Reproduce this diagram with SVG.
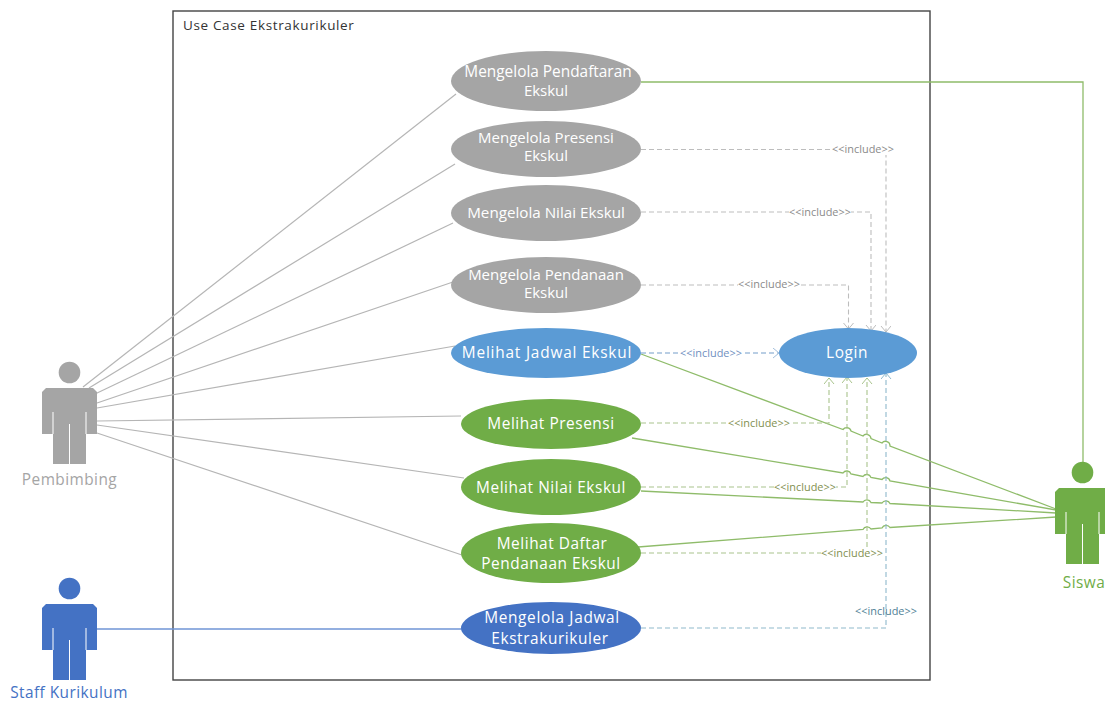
<svg xmlns="http://www.w3.org/2000/svg" width="1105" height="703" viewBox="0 0 1105 703">
<defs>
<marker id="ag" markerWidth="12" markerHeight="12" refX="10" refY="5" orient="auto" markerUnits="userSpaceOnUse"><path d="M4 0L10 5L4 10" fill="none" stroke="#bdbdbd" stroke-width="1"/></marker>
<marker id="ab" markerWidth="12" markerHeight="12" refX="10" refY="5" orient="auto" markerUnits="userSpaceOnUse"><path d="M4 0L10 5L4 10" fill="none" stroke="#a3bfdc" stroke-width="1"/></marker>
<marker id="av" markerWidth="12" markerHeight="12" refX="10" refY="5" orient="auto" markerUnits="userSpaceOnUse"><path d="M4 0L10 5L4 10" fill="none" stroke="#a9c48d" stroke-width="1"/></marker>
<marker id="at" markerWidth="12" markerHeight="12" refX="10" refY="5" orient="auto" markerUnits="userSpaceOnUse"><path d="M4 0L10 5L4 10" fill="none" stroke="#8fb9cc" stroke-width="1"/></marker>
<symbol id="person" overflow="visible">
<circle cx="27.5" cy="-15.5" r="10.8"/>
<path d="M4 0H51L55 4V46H44V76H11V46H0V4Z"/>
<path d="M11 24V46M44 24V46M27.5 36V76" fill="none" stroke="#fff" stroke-width="1"/>
</symbol>
</defs>
<style>
text{font-family:"Open Sans","Noto Sans","Liberation Sans",sans-serif}
.uc{font-size:15px;fill:#fff;text-anchor:middle}
.ucb{font-size:15.4px;letter-spacing:.55px;fill:#fff;text-anchor:middle}
.lab{font-size:15.4px;letter-spacing:.45px;text-anchor:middle}
.inc{font-size:10.9px;text-anchor:middle}
.g{fill:#a5a5a5}.b{fill:#5b9bd5}.v{fill:#70ad47}.d{fill:#4472c4}
.sg{fill:none;stroke:#b5b5b5;stroke-width:1.2}
.sv{fill:none;stroke:#8fbc6a;stroke-width:1.3}
.sd{fill:none;stroke:#6f94d6;stroke-width:1.3}
.dg{fill:none;stroke:#bdbdbd;stroke-width:1.1;stroke-dasharray:5 3}
.db{fill:none;stroke:#a3bfdc;stroke-width:1.3;stroke-dasharray:5 3}
.dv{fill:none;stroke:#a9c48d;stroke-width:1.1;stroke-dasharray:5 3}
.dt{fill:none;stroke:#8fb9cc;stroke-width:1.1;stroke-dasharray:5 3}
</style>
<rect id="boundary" x="173" y="11" width="757" height="669" fill="#fff" stroke="#444" stroke-width="1.4"/>
<text x="183" y="30" font-size="13.5" letter-spacing="0.65" fill="#333">Use Case Ekstrakurikuler</text>

<g id="connectors">
<path class="sg" d="M83 387L456 94"/>
<path class="sg" d="M89 388L455 164"/>
<path class="sg" d="M95 394L453 223"/>
<path class="sg" d="M97 403L453 282"/>
<path class="sg" d="M97 408L455 346"/>
<path class="sg" d="M97 421L461 416"/>
<path class="sg" d="M97 425L464 478"/>
<path class="sg" d="M97 433L462 555"/>
<path class="sd" d="M97 629H462"/>
<path class="sv" d="M641 82H1083V462"/>
<path class="sv" d="M641 354L843 429.500A4.500 4.500 0 0 1 851 431L863 436A4.500 4.500 0 0 1 871 438.500L882 443A4.500 4.500 0 0 1 890 446L1056 509"/>
<path class="sv" d="M632 438L843 473A4.500 4.500 0 0 1 851 474L863 476.500A4.500 4.500 0 0 1 871 477.500L882 479.500A4.500 4.500 0 0 1 890 481L1056 510"/>
<path class="sv" d="M641 491L863 502A4.500 4.500 0 0 1 871 502.500L882 503A4.500 4.500 0 0 1 890 503.500L1056 513"/>
<path class="sv" d="M638 547L863 529.500A4.500 4.500 0 0 1 871 529L882 528A4.500 4.500 0 0 1 890 527.500L1056 517"/>

<path class="dg" d="M641 149.500H886V332" marker-end="url(#ag)"/>
<path class="dg" d="M641 212H871V331" marker-end="url(#ag)"/>
<path class="dg" d="M641 285H848.500V329" marker-end="url(#ag)"/>
<path class="db" d="M641 353H779" marker-end="url(#ab)"/>
<path class="dv" d="M641 423H829V378" marker-end="url(#av)"/>
<path class="dv" d="M641 487H847V377" marker-end="url(#av)"/>
<path class="dv" d="M641 553H867V378" marker-end="url(#av)"/>
<path class="dt" d="M641 628H886V373" marker-end="url(#at)"/>
<g>
<rect x="832" y="143" width="62" height="12" fill="#fff"/><text class="inc" x="863" y="152.500" fill="#8a8a8a">&lt;&lt;include&gt;&gt;</text>
<rect x="789" y="206" width="62" height="12" fill="#fff"/><text class="inc" x="820" y="215.500" fill="#8a8a8a">&lt;&lt;include&gt;&gt;</text>
<rect x="738" y="278" width="62" height="12" fill="#fff"/><text class="inc" x="769" y="288" fill="#8a8a8a">&lt;&lt;include&gt;&gt;</text>
<rect x="680" y="347" width="62" height="12" fill="#fff"/><text class="inc" x="711" y="356.500" fill="#6f8fc0">&lt;&lt;include&gt;&gt;</text>
<rect x="728" y="417" width="62" height="12" fill="#fff"/><text class="inc" x="759" y="426.500" fill="#7f8f50">&lt;&lt;include&gt;&gt;</text>
<rect x="774" y="481" width="62" height="12" fill="#fff"/><text class="inc" x="805" y="490.500" fill="#7f8f50">&lt;&lt;include&gt;&gt;</text>
<rect x="821" y="547" width="62" height="12" fill="#fff"/><text class="inc" x="852" y="556.500" fill="#7f8f50">&lt;&lt;include&gt;&gt;</text>
<text class="inc" x="886" y="614.500" fill="#4f7f96">&lt;&lt;include&gt;&gt;</text>
</g>
</g>

<g id="uc-pendaftaran"><ellipse class="g" cx="546" cy="81" rx="95" ry="30"/><text class="uc" x="548" y="77" style="font-size:15.4px">Mengelola Pendaftaran</text><text class="uc" x="546" y="96">Ekskul</text></g>
<g id="uc-presensi"><ellipse class="g" cx="546" cy="149" rx="95" ry="28"/><text class="uc" x="546" y="143">Mengelola Presensi</text><text class="uc" x="546" y="161">Ekskul</text></g>
<g id="uc-nilai"><ellipse class="g" cx="546" cy="213" rx="95" ry="28"/><text class="uc" x="546" y="218" style="font-size:15.2px">Mengelola Nilai Ekskul</text></g>
<g id="uc-pendanaan"><ellipse class="g" cx="546" cy="285" rx="95" ry="28"/><text class="uc" x="546" y="280">Mengelola Pendanaan</text><text class="uc" x="546" y="298">Ekskul</text></g>
<g id="uc-jadwal"><ellipse class="b" cx="546" cy="353" rx="95" ry="25"/><text class="ucb" x="547" y="358" style="letter-spacing:.8px">Melihat Jadwal Ekskul</text></g>
<g id="uc-login"><ellipse class="b" cx="848" cy="353" rx="69" ry="25"/><text class="ucb" x="847" y="358" style="letter-spacing:.6px">Login</text></g>
<g id="uc-lihat-presensi"><ellipse class="v" cx="551" cy="424" rx="90" ry="25"/><text class="ucb" x="551" y="429">Melihat Presensi</text></g>
<g id="uc-lihat-nilai"><ellipse class="v" cx="551" cy="487" rx="90" ry="28"/><text class="ucb" x="551" y="493">Melihat Nilai Ekskul</text></g>
<g id="uc-daftar"><ellipse class="v" cx="551" cy="553" rx="90" ry="30"/><text class="ucb" x="552" y="549">Melihat Daftar</text><text class="ucb" x="551" y="569">Pendanaan Ekskul</text></g>
<g id="uc-kelola-jadwal"><ellipse class="d" cx="551" cy="628" rx="90" ry="26"/><text class="ucb" x="552" y="623" style="letter-spacing:.67px">Mengelola Jadwal</text><text class="ucb" x="550" y="644" style="letter-spacing:.6px">Ekstrakurikuler</text></g>

<g id="actor-pembimbing"><use href="#person" x="42" y="388" class="g"/><text class="lab" x="69.500" y="485" fill="#a5a5a5">Pembimbing</text></g>
<g id="actor-siswa"><use href="#person" x="1055" y="488" class="v"/><text class="lab" x="1084" y="588" fill="#70ad47">Siswa</text></g>
<g id="actor-staff"><use href="#person" x="42" y="604" class="d"/><text class="lab" x="69" y="698" fill="#4472c4">Staff Kurikulum</text></g>
</svg>
